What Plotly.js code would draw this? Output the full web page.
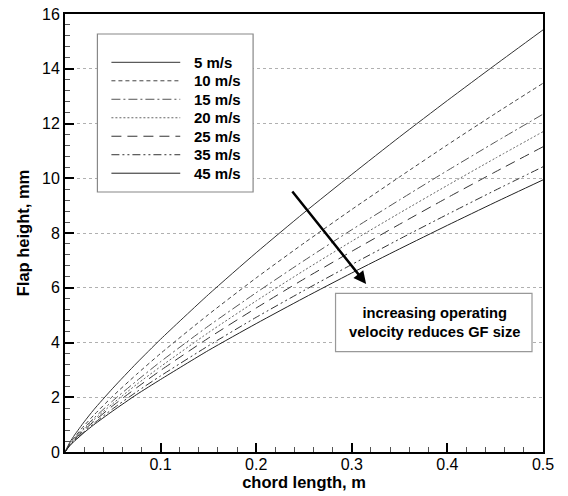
<!DOCTYPE html>
<html>
<head>
<meta charset="utf-8">
<script src="https://cdn.plot.ly/plotly-3.0.1.min.js"></script>
<style>html,body{margin:0;padding:0;background:#fff;}#chart{width:568px;height:496px;}</style>
</head>
<body>
<div id="chart"></div>
<script>
// chord length, m
const chord = [0, 0.005, 0.01, 0.02, 0.03, 0.05, 0.075, 0.1, 0.15, 0.2, 0.25, 0.3, 0.35, 0.4, 0.45, 0.5];
// flap height, mm, per operating velocity
const v5  = [0, 0.35, 0.62, 1.10, 1.54, 2.33, 3.25, 4.12, 5.75, 7.28, 8.74, 10.14, 11.51, 12.84, 14.14, 15.42];
const v10 = [0, 0.31, 0.54, 0.96, 1.34, 2.04, 2.84, 3.60, 5.02, 6.36, 7.63, 8.86, 10.05, 11.22, 12.36, 13.47];
const v15 = [0, 0.28, 0.50, 0.88, 1.23, 1.87, 2.60, 3.30, 4.60, 5.82, 6.99, 8.12, 9.21, 10.28, 11.32, 12.34];
const v20 = [0, 0.27, 0.47, 0.84, 1.17, 1.77, 2.47, 3.12, 4.36, 5.52, 6.63, 7.70, 8.73, 9.74, 10.73, 11.70];
const v25 = [0, 0.26, 0.45, 0.80, 1.11, 1.69, 2.35, 2.98, 4.16, 5.26, 6.32, 7.33, 8.32, 9.29, 10.23, 11.15];
const v35 = [0, 0.24, 0.42, 0.74, 1.04, 1.58, 2.20, 2.78, 3.88, 4.92, 5.90, 6.85, 7.78, 8.68, 9.56, 10.42];
const v45 = [0, 0.23, 0.40, 0.71, 0.99, 1.50, 2.10, 2.65, 3.71, 4.69, 5.63, 6.54, 7.42, 8.28, 9.12, 9.94];
const seriesNames = ["5 m/s", "10 m/s", "15 m/s", "20 m/s", "25 m/s", "35 m/s", "45 m/s"];
const seriesValues = [v5, v10, v15, v20, v25, v35, v45];
const xTicks = [0.1, 0.2, 0.3, 0.4, 0.5];
const yTicks = [0, 2, 4, 6, 8, 10, 12, 14, 16];

const dashes = ["solid", "4px,3px", "9px,3px,2px,3px", "2px,2px", "10px,6px", "8px,3px,2px,3px,2px,3px", "solid"];
const colors = ["#333", "#444", "#555", "#666", "#333", "#333", "#222"];

const traces = seriesNames.map((n, i) => ({
  x: chord, y: seriesValues[i], name: n, type: "scatter", mode: "lines",
  line: {color: colors[i], width: 1, dash: dashes[i], shape: "spline", smoothing: 0.6},
  showlegend: false
}));

const fontFam = "Liberation Sans, Arial, Helvetica, sans-serif";

// legend drawn as layout decorations (plot-area paper coords)
const legX0 = 0.0971, legX1 = 0.2411, legTextX = 0.2662;
const legRowTop = 0.8897, legRowStep = 0.0422;
const legendShapes = seriesNames.map((n, i) => ({
  type: "line", xref: "paper", yref: "paper",
  x0: legX0, x1: legX1, y0: legRowTop - i * legRowStep, y1: legRowTop - i * legRowStep,
  line: {color: colors[i], width: 1, dash: dashes[i]}
}));
const legendLabels = seriesNames.map((n, i) => ({
  xref: "paper", yref: "paper", x: legTextX, y: legRowTop - i * legRowStep,
  xanchor: "left", yanchor: "middle", showarrow: false, text: n,
  font: {size: 15, family: fontFam, weight: "bold", color: "#000"}
}));

const layout = {
  width: 568, height: 496,
  margin: {l: 64.5, r: 24.5, t: 14, b: 44},
  paper_bgcolor: "#fff", plot_bgcolor: "#fff",
  font: {family: fontFam, color: "#000"},
  showlegend: false,
  xaxis: {
    range: [0, 0.5], tickvals: xTicks, ticktext: xTicks.map(String),
    ticks: "inside", ticklen: 9, tickwidth: 2, tickcolor: "#000",
    showline: true, linewidth: 2, linecolor: "#000", mirror: true,
    showgrid: false, zeroline: false,
    tickfont: {size: 16, family: fontFam},
    ticklabelstandoff: -3,
    minor: {dtick: 0.02, tick0: 0, ticks: "inside", ticklen: 5, tickwidth: 1, tickcolor: "#555", showgrid: false},
    title: {text: "chord length, m", font: {size: 16.5, family: fontFam, weight: "bold"}, standoff: 2}
  },
  yaxis: {
    range: [0, 16], tickvals: yTicks, ticktext: yTicks.map(String),
    ticks: "inside", ticklen: 9, tickwidth: 2, tickcolor: "#000",
    showline: true, linewidth: 2, linecolor: "#000", mirror: true,
    showgrid: true, gridcolor: "#b0b0b0", griddash: "dot", gridwidth: 1,
    zeroline: false,
    tickfont: {size: 16, family: fontFam},
    minor: {dtick: 0.4, tick0: 0, ticks: "inside", ticklen: 5, tickwidth: 1, tickcolor: "#555", showgrid: false},
    title: {text: "Flap height, mm", font: {size: 16.5, family: fontFam, weight: "bold"}, standoff: 8}
  },
  shapes: [
    {type: "rect", xref: "paper", yref: "paper", x0: 0.0678, x1: 0.3935, y0: 0.5936, y1: 0.9543,
     line: {color: "#888", width: 1.2}, fillcolor: "#fff", layer: "above"},
    {type: "rect", xref: "paper", yref: "paper", x0: 0.566, x1: 0.977, y0: 0.229, y1: 0.362,
     line: {color: "#999", width: 1.2}, fillcolor: "#fff", layer: "above"}
  ].concat(legendShapes),
  annotations: [
    {xref: "x", yref: "y", x: 0.315, y: 6.14, ax: -75, ay: -94, showarrow: true,
     arrowhead: 2, arrowsize: 1, arrowwidth: 2.5, arrowcolor: "#000", text: ""},
    {xref: "paper", yref: "paper", x: 0.772, y: 0.296, xanchor: "center", yanchor: "middle",
     showarrow: false, align: "center",
     text: "increasing operating<br>velocity reduces GF size",
     font: {size: 14.7, family: fontFam, weight: "bold", color: "#000"}}
  ].concat(legendLabels)
};

Plotly.newPlot("chart", traces, layout, {staticPlot: true, displayModeBar: false});
</script>
</body>
</html>
